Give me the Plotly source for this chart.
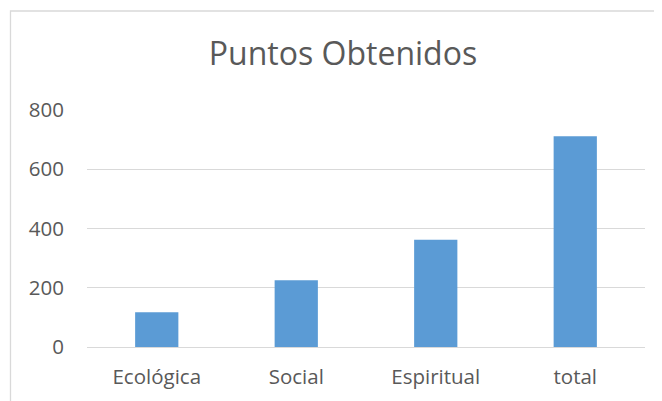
import plotly.graph_objects as go

categories = ["Ecológica", "Social", "Espiritual", "total"]
values = [117, 225, 362, 711]
y_ticks = [0, 200, 400, 600, 800]

# page body has an 8px margin, so the figure is sized to fill the rest of the window
OFF = 8
W, H = 662 - OFF, 401 - OFF
L, R, T, B = 87 - OFF, 17, 110 - OFF, 54
font = "Open Sans"
grey = "#595959"

fig = go.Figure(go.Bar(
    x=categories, y=values, width=0.31,
    marker=dict(color="#5b9bd5", line=dict(width=0)),
))

fig.update_layout(
    width=W, height=H,
    margin=dict(l=L, r=R, t=T, b=B),
    paper_bgcolor="white", plot_bgcolor="white",
    showlegend=False,
    font=dict(family=font, color=grey),
    title=dict(text="Puntos Obtenidos", x=(343 - OFF) / W, xanchor="center",
               y=1 - (54 - OFF) / H, yanchor="middle",
               font=dict(family=font, size=32, color=grey)),
)
fig.update_yaxes(range=[0, 800], tickvals=y_ticks, showgrid=True,
                 gridcolor="#d9d9d9", gridwidth=1.3, zeroline=False,
                 showline=False, ticks="", ticklabelstandoff=22,
                 tickfont=dict(family=font, size=20.5, color=grey))
fig.update_xaxes(showgrid=False, showline=True, linecolor="#d9d9d9",
                 linewidth=1.3, ticks="", ticklabelstandoff=11,
                 tickfont=dict(family=font, size=20.5, color=grey))

# chart-area frame (left and top edges visible in the reference)
px = lambda x: (x - OFF - L) / (W - L - R)
py = lambda y: (H - B - (y - OFF)) / (H - T - B)
fig.add_shape(type="rect", xref="paper", yref="paper",
              x0=px(10.5), x1=px(662 + 20), y0=py(401 + 20), y1=py(11),
              line=dict(color="#d9d9d9", width=1.3), layer="below")

fig.write_html("out.html")
